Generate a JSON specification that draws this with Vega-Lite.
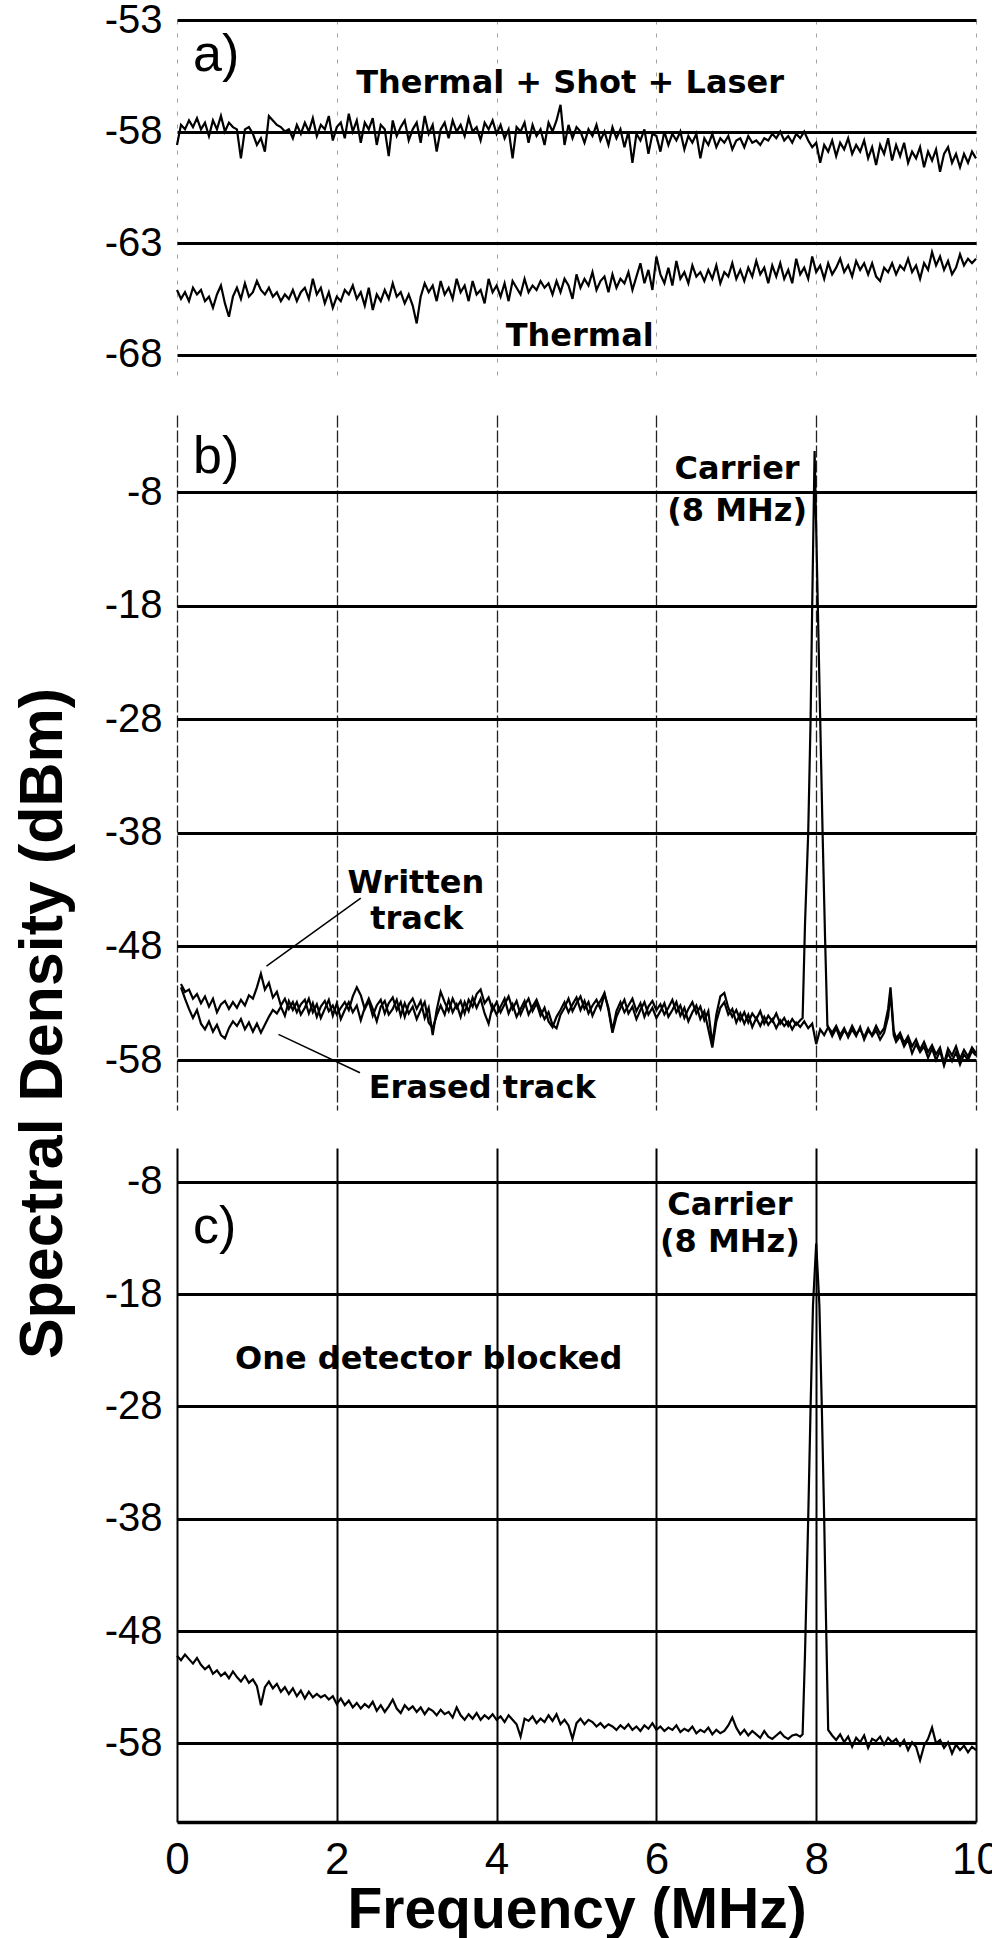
{
"$schema": "https://vega.github.io/schema/vega-lite/v6.json",
"background": "white",
"padding": {"left": 12, "top": 0, "right": 0, "bottom": 0},
"bounds": "flush",
"spacing": 38,
"config": {
  "view": {"stroke": null},
  "axis": {"labelColor": "black", "titleColor": "black", "labelFont": "Liberation Sans"},
  "line": {"color": "black", "strokeWidth": 2}
},
"datasets": {
"a1": [{"x":0,"y":-58.6},{"x":0.05,"y":-57.7},{"x":0.1,"y":-57.9},{"x":0.15,"y":-57.5},{"x":0.2,"y":-57.8},{"x":0.25,"y":-57.4},{"x":0.3,"y":-57.9},{"x":0.35,"y":-57.6},{"x":0.4,"y":-58.2},{"x":0.45,"y":-57.5},{"x":0.5,"y":-57.9},{"x":0.55,"y":-57.3},{"x":0.6,"y":-58.0},{"x":0.65,"y":-57.6},{"x":0.7,"y":-57.8},{"x":0.75,"y":-57.9},{"x":0.8,"y":-59.2},{"x":0.85,"y":-57.9},{"x":0.9,"y":-57.8},{"x":0.95,"y":-58.1},{"x":1.0,"y":-58.6},{"x":1.05,"y":-58.3},{"x":1.1,"y":-58.9},{"x":1.15,"y":-57.3},{"x":1.2,"y":-57.5},{"x":1.25,"y":-57.7},{"x":1.3,"y":-57.8},{"x":1.35,"y":-58.0},{"x":1.4,"y":-57.9},{"x":1.45,"y":-58.3},{"x":1.5,"y":-57.7},{"x":1.55,"y":-58.1},{"x":1.6,"y":-57.6},{"x":1.65,"y":-58.0},{"x":1.7,"y":-57.4},{"x":1.75,"y":-58.2},{"x":1.8,"y":-57.7},{"x":1.85,"y":-57.9},{"x":1.9,"y":-57.3},{"x":1.95,"y":-58.4},{"x":2.0,"y":-57.8},{"x":2.05,"y":-57.6},{"x":2.1,"y":-58.3},{"x":2.15,"y":-57.2},{"x":2.2,"y":-58.0},{"x":2.25,"y":-57.5},{"x":2.3,"y":-58.5},{"x":2.35,"y":-57.6},{"x":2.4,"y":-57.9},{"x":2.45,"y":-57.4},{"x":2.5,"y":-58.6},{"x":2.55,"y":-57.7},{"x":2.6,"y":-57.9},{"x":2.65,"y":-59.1},{"x":2.7,"y":-57.5},{"x":2.75,"y":-58.2},{"x":2.8,"y":-57.8},{"x":2.85,"y":-57.5},{"x":2.9,"y":-58.4},{"x":2.95,"y":-57.9},{"x":3.0,"y":-57.6},{"x":3.05,"y":-58.5},{"x":3.1,"y":-57.3},{"x":3.15,"y":-58.1},{"x":3.2,"y":-57.7},{"x":3.25,"y":-58.9},{"x":3.3,"y":-57.9},{"x":3.35,"y":-57.6},{"x":3.4,"y":-58.3},{"x":3.45,"y":-57.5},{"x":3.5,"y":-58.0},{"x":3.55,"y":-57.7},{"x":3.6,"y":-58.2},{"x":3.65,"y":-57.4},{"x":3.7,"y":-58.0},{"x":3.75,"y":-57.8},{"x":3.8,"y":-58.4},{"x":3.85,"y":-57.6},{"x":3.9,"y":-57.9},{"x":3.95,"y":-57.5},{"x":4.0,"y":-58.1},{"x":4.05,"y":-57.7},{"x":4.1,"y":-58.3},{"x":4.15,"y":-57.9},{"x":4.2,"y":-59.2},{"x":4.25,"y":-57.8},{"x":4.3,"y":-58.0},{"x":4.35,"y":-57.6},{"x":4.4,"y":-58.5},{"x":4.45,"y":-57.7},{"x":4.5,"y":-58.2},{"x":4.55,"y":-57.9},{"x":4.6,"y":-58.6},{"x":4.65,"y":-57.6},{"x":4.7,"y":-58.0},{"x":4.75,"y":-57.5},{"x":4.8,"y":-56.8},{"x":4.85,"y":-58.6},{"x":4.9,"y":-57.7},{"x":4.95,"y":-58.3},{"x":5.0,"y":-57.8},{"x":5.05,"y":-58.0},{"x":5.1,"y":-58.5},{"x":5.15,"y":-57.9},{"x":5.2,"y":-58.2},{"x":5.25,"y":-57.7},{"x":5.3,"y":-58.4},{"x":5.35,"y":-58.0},{"x":5.4,"y":-58.6},{"x":5.45,"y":-57.8},{"x":5.5,"y":-58.3},{"x":5.55,"y":-57.9},{"x":5.6,"y":-58.7},{"x":5.65,"y":-58.0},{"x":5.7,"y":-59.4},{"x":5.75,"y":-58.1},{"x":5.8,"y":-58.4},{"x":5.85,"y":-57.9},{"x":5.9,"y":-59.0},{"x":5.95,"y":-58.1},{"x":6.0,"y":-58.2},{"x":6.05,"y":-58.9},{"x":6.1,"y":-58.0},{"x":6.15,"y":-58.6},{"x":6.2,"y":-58.1},{"x":6.25,"y":-58.4},{"x":6.3,"y":-58.0},{"x":6.35,"y":-58.8},{"x":6.4,"y":-58.2},{"x":6.45,"y":-58.5},{"x":6.5,"y":-58.1},{"x":6.55,"y":-59.2},{"x":6.6,"y":-58.3},{"x":6.65,"y":-58.6},{"x":6.7,"y":-58.1},{"x":6.75,"y":-58.7},{"x":6.8,"y":-58.3},{"x":6.85,"y":-58.5},{"x":6.9,"y":-58.2},{"x":6.95,"y":-58.8},{"x":7.0,"y":-58.4},{"x":7.05,"y":-58.3},{"x":7.1,"y":-58.7},{"x":7.15,"y":-58.2},{"x":7.2,"y":-58.5},{"x":7.25,"y":-58.4},{"x":7.3,"y":-58.6},{"x":7.35,"y":-58.3},{"x":7.4,"y":-58.4},{"x":7.45,"y":-58.1},{"x":7.5,"y":-58.3},{"x":7.55,"y":-58.0},{"x":7.6,"y":-58.4},{"x":7.65,"y":-58.2},{"x":7.7,"y":-58.5},{"x":7.75,"y":-58.1},{"x":7.8,"y":-58.3},{"x":7.85,"y":-58.0},{"x":7.9,"y":-58.4},{"x":7.95,"y":-58.7},{"x":8.0,"y":-58.5},{"x":8.05,"y":-59.4},{"x":8.1,"y":-58.6},{"x":8.15,"y":-58.9},{"x":8.2,"y":-58.4},{"x":8.25,"y":-59.1},{"x":8.3,"y":-58.5},{"x":8.35,"y":-58.8},{"x":8.4,"y":-58.3},{"x":8.45,"y":-59.0},{"x":8.5,"y":-58.6},{"x":8.55,"y":-58.9},{"x":8.6,"y":-58.4},{"x":8.65,"y":-59.2},{"x":8.7,"y":-58.7},{"x":8.75,"y":-59.5},{"x":8.8,"y":-58.6},{"x":8.85,"y":-59.0},{"x":8.9,"y":-58.3},{"x":8.95,"y":-59.3},{"x":9.0,"y":-58.6},{"x":9.05,"y":-59.1},{"x":9.1,"y":-58.5},{"x":9.15,"y":-59.4},{"x":9.2,"y":-58.9},{"x":9.25,"y":-59.2},{"x":9.3,"y":-58.7},{"x":9.35,"y":-59.6},{"x":9.4,"y":-58.9},{"x":9.45,"y":-59.3},{"x":9.5,"y":-58.8},{"x":9.55,"y":-59.8},{"x":9.6,"y":-59.0},{"x":9.65,"y":-58.7},{"x":9.7,"y":-59.4},{"x":9.75,"y":-59.0},{"x":9.8,"y":-59.6},{"x":9.85,"y":-59.0},{"x":9.9,"y":-59.4},{"x":9.95,"y":-58.9},{"x":10.0,"y":-59.2}],
"a2": [{"x":0,"y":-65.1},{"x":0.05,"y":-65.5},{"x":0.1,"y":-65.2},{"x":0.15,"y":-65.6},{"x":0.2,"y":-65.0},{"x":0.25,"y":-65.3},{"x":0.3,"y":-65.1},{"x":0.35,"y":-65.6},{"x":0.4,"y":-65.4},{"x":0.45,"y":-65.9},{"x":0.5,"y":-65.3},{"x":0.55,"y":-64.9},{"x":0.6,"y":-65.7},{"x":0.65,"y":-66.3},{"x":0.7,"y":-65.4},{"x":0.75,"y":-65.0},{"x":0.8,"y":-65.5},{"x":0.85,"y":-64.8},{"x":0.9,"y":-65.4},{"x":0.95,"y":-65.2},{"x":1.0,"y":-64.7},{"x":1.05,"y":-65.1},{"x":1.1,"y":-65.3},{"x":1.15,"y":-65.0},{"x":1.2,"y":-65.4},{"x":1.25,"y":-65.2},{"x":1.3,"y":-65.6},{"x":1.35,"y":-65.3},{"x":1.4,"y":-65.5},{"x":1.45,"y":-65.1},{"x":1.5,"y":-65.6},{"x":1.55,"y":-65.2},{"x":1.6,"y":-65.0},{"x":1.65,"y":-65.5},{"x":1.7,"y":-64.6},{"x":1.75,"y":-65.3},{"x":1.8,"y":-65.0},{"x":1.85,"y":-65.7},{"x":1.9,"y":-65.2},{"x":1.95,"y":-65.9},{"x":2.0,"y":-65.4},{"x":2.05,"y":-65.6},{"x":2.1,"y":-65.1},{"x":2.15,"y":-65.3},{"x":2.2,"y":-64.9},{"x":2.25,"y":-65.5},{"x":2.3,"y":-65.2},{"x":2.35,"y":-65.8},{"x":2.4,"y":-65.0},{"x":2.45,"y":-66.0},{"x":2.5,"y":-65.3},{"x":2.55,"y":-65.6},{"x":2.6,"y":-65.1},{"x":2.65,"y":-65.5},{"x":2.7,"y":-64.8},{"x":2.75,"y":-65.4},{"x":2.8,"y":-65.2},{"x":2.85,"y":-65.7},{"x":2.9,"y":-65.3},{"x":2.95,"y":-65.8},{"x":3.0,"y":-66.6},{"x":3.05,"y":-65.4},{"x":3.1,"y":-64.8},{"x":3.15,"y":-65.2},{"x":3.2,"y":-64.9},{"x":3.25,"y":-65.6},{"x":3.3,"y":-64.7},{"x":3.35,"y":-65.3},{"x":3.4,"y":-65.0},{"x":3.45,"y":-65.5},{"x":3.5,"y":-64.6},{"x":3.55,"y":-65.2},{"x":3.6,"y":-64.9},{"x":3.65,"y":-65.6},{"x":3.7,"y":-64.7},{"x":3.75,"y":-65.3},{"x":3.8,"y":-65.1},{"x":3.85,"y":-65.7},{"x":3.9,"y":-64.6},{"x":3.95,"y":-65.2},{"x":4.0,"y":-64.9},{"x":4.05,"y":-65.4},{"x":4.1,"y":-64.8},{"x":4.15,"y":-65.6},{"x":4.2,"y":-64.7},{"x":4.25,"y":-65.0},{"x":4.3,"y":-65.3},{"x":4.35,"y":-64.6},{"x":4.4,"y":-65.2},{"x":4.45,"y":-64.9},{"x":4.5,"y":-65.1},{"x":4.55,"y":-64.7},{"x":4.6,"y":-65.0},{"x":4.65,"y":-64.8},{"x":4.7,"y":-65.3},{"x":4.75,"y":-64.7},{"x":4.8,"y":-65.2},{"x":4.85,"y":-64.6},{"x":4.9,"y":-64.9},{"x":4.95,"y":-65.5},{"x":5.0,"y":-64.4},{"x":5.05,"y":-65.0},{"x":5.1,"y":-64.6},{"x":5.15,"y":-64.9},{"x":5.2,"y":-64.3},{"x":5.25,"y":-65.1},{"x":5.3,"y":-64.7},{"x":5.35,"y":-64.5},{"x":5.4,"y":-65.2},{"x":5.45,"y":-64.4},{"x":5.5,"y":-65.0},{"x":5.55,"y":-64.6},{"x":5.6,"y":-64.8},{"x":5.65,"y":-64.3},{"x":5.7,"y":-65.1},{"x":5.75,"y":-64.5},{"x":5.8,"y":-63.9},{"x":5.85,"y":-64.8},{"x":5.9,"y":-64.2},{"x":5.95,"y":-65.1},{"x":6.0,"y":-63.6},{"x":6.05,"y":-64.4},{"x":6.1,"y":-64.8},{"x":6.15,"y":-64.1},{"x":6.2,"y":-64.9},{"x":6.25,"y":-63.8},{"x":6.3,"y":-64.6},{"x":6.35,"y":-64.3},{"x":6.4,"y":-64.8},{"x":6.45,"y":-64.0},{"x":6.5,"y":-64.5},{"x":6.55,"y":-64.3},{"x":6.6,"y":-64.7},{"x":6.65,"y":-64.2},{"x":6.7,"y":-64.6},{"x":6.75,"y":-64.0},{"x":6.8,"y":-64.8},{"x":6.85,"y":-64.3},{"x":6.9,"y":-64.5},{"x":6.95,"y":-63.9},{"x":7.0,"y":-64.6},{"x":7.05,"y":-64.2},{"x":7.1,"y":-64.7},{"x":7.15,"y":-64.1},{"x":7.2,"y":-64.5},{"x":7.25,"y":-63.8},{"x":7.3,"y":-64.4},{"x":7.35,"y":-64.1},{"x":7.4,"y":-64.8},{"x":7.45,"y":-64.0},{"x":7.5,"y":-64.5},{"x":7.55,"y":-63.9},{"x":7.6,"y":-64.6},{"x":7.65,"y":-64.2},{"x":7.7,"y":-64.8},{"x":7.75,"y":-63.7},{"x":7.8,"y":-64.4},{"x":7.85,"y":-64.1},{"x":7.9,"y":-64.6},{"x":7.95,"y":-63.6},{"x":8.0,"y":-64.3},{"x":8.05,"y":-64.0},{"x":8.1,"y":-64.6},{"x":8.15,"y":-63.9},{"x":8.2,"y":-64.4},{"x":8.25,"y":-64.1},{"x":8.3,"y":-63.7},{"x":8.35,"y":-64.3},{"x":8.4,"y":-64.0},{"x":8.45,"y":-64.5},{"x":8.5,"y":-63.8},{"x":8.55,"y":-64.2},{"x":8.6,"y":-63.9},{"x":8.65,"y":-64.4},{"x":8.7,"y":-63.9},{"x":8.75,"y":-64.5},{"x":8.8,"y":-64.7},{"x":8.85,"y":-64.1},{"x":8.9,"y":-64.3},{"x":8.95,"y":-63.9},{"x":9.0,"y":-64.4},{"x":9.05,"y":-64.0},{"x":9.1,"y":-64.2},{"x":9.15,"y":-63.7},{"x":9.2,"y":-64.3},{"x":9.25,"y":-64.0},{"x":9.3,"y":-64.6},{"x":9.35,"y":-63.9},{"x":9.4,"y":-64.2},{"x":9.45,"y":-63.4},{"x":9.5,"y":-64.0},{"x":9.55,"y":-63.6},{"x":9.6,"y":-64.2},{"x":9.65,"y":-63.8},{"x":9.7,"y":-64.4},{"x":9.75,"y":-64.1},{"x":9.8,"y":-63.5},{"x":9.85,"y":-64.0},{"x":9.9,"y":-63.7},{"x":9.95,"y":-63.9},{"x":10.0,"y":-63.7}],
"b1": [{"x":0.05,"y":-51.3},{"x":0.1,"y":-52.0},{"x":0.15,"y":-51.8},{"x":0.2,"y":-52.6},{"x":0.25,"y":-52.2},{"x":0.3,"y":-53.0},{"x":0.35,"y":-52.4},{"x":0.4,"y":-53.3},{"x":0.45,"y":-52.6},{"x":0.5,"y":-53.8},{"x":0.55,"y":-53.1},{"x":0.6,"y":-52.8},{"x":0.65,"y":-53.5},{"x":0.7,"y":-52.9},{"x":0.75,"y":-53.4},{"x":0.8,"y":-52.7},{"x":0.85,"y":-53.2},{"x":0.9,"y":-52.3},{"x":0.95,"y":-52.6},{"x":1.0,"y":-51.6},{"x":1.05,"y":-50.4},{"x":1.1,"y":-51.8},{"x":1.15,"y":-51.2},{"x":1.2,"y":-52.5},{"x":1.25,"y":-52.0},{"x":1.3,"y":-53.2},{"x":1.35,"y":-52.6},{"x":1.4,"y":-53.5},{"x":1.45,"y":-52.9},{"x":1.5,"y":-53.8},{"x":1.55,"y":-53.1},{"x":1.6,"y":-52.7},{"x":1.65,"y":-53.9},{"x":1.7,"y":-53.0},{"x":1.75,"y":-54.2},{"x":1.8,"y":-53.3},{"x":1.85,"y":-52.8},{"x":1.9,"y":-53.7},{"x":1.95,"y":-53.2},{"x":2.0,"y":-54.0},{"x":2.05,"y":-53.4},{"x":2.1,"y":-52.9},{"x":2.15,"y":-53.6},{"x":2.2,"y":-52.4},{"x":2.25,"y":-51.6},{"x":2.3,"y":-52.3},{"x":2.35,"y":-53.5},{"x":2.4,"y":-52.8},{"x":2.45,"y":-54.1},{"x":2.5,"y":-53.2},{"x":2.55,"y":-52.7},{"x":2.6,"y":-53.9},{"x":2.65,"y":-53.0},{"x":2.7,"y":-52.5},{"x":2.75,"y":-53.6},{"x":2.8,"y":-52.9},{"x":2.85,"y":-54.2},{"x":2.9,"y":-53.1},{"x":2.95,"y":-52.6},{"x":3.0,"y":-53.5},{"x":3.05,"y":-52.8},{"x":3.1,"y":-54.3},{"x":3.15,"y":-53.4},{"x":3.2,"y":-55.8},{"x":3.25,"y":-53.6},{"x":3.3,"y":-52.0},{"x":3.35,"y":-52.9},{"x":3.4,"y":-53.7},{"x":3.45,"y":-52.6},{"x":3.5,"y":-53.4},{"x":3.55,"y":-52.8},{"x":3.6,"y":-53.9},{"x":3.65,"y":-52.7},{"x":3.7,"y":-53.3},{"x":3.75,"y":-52.2},{"x":3.8,"y":-51.8},{"x":3.85,"y":-53.0},{"x":3.9,"y":-52.5},{"x":3.95,"y":-53.6},{"x":4.0,"y":-52.9},{"x":4.05,"y":-53.8},{"x":4.1,"y":-53.1},{"x":4.15,"y":-52.4},{"x":4.2,"y":-53.5},{"x":4.25,"y":-52.8},{"x":4.3,"y":-54.0},{"x":4.35,"y":-53.2},{"x":4.4,"y":-52.6},{"x":4.45,"y":-53.7},{"x":4.5,"y":-53.0},{"x":4.55,"y":-54.1},{"x":4.6,"y":-53.4},{"x":4.65,"y":-54.6},{"x":4.7,"y":-55.1},{"x":4.75,"y":-54.2},{"x":4.8,"y":-53.6},{"x":4.85,"y":-52.9},{"x":4.9,"y":-53.8},{"x":4.95,"y":-53.1},{"x":5.0,"y":-52.5},{"x":5.05,"y":-53.6},{"x":5.1,"y":-52.8},{"x":5.15,"y":-53.9},{"x":5.2,"y":-53.2},{"x":5.25,"y":-52.7},{"x":5.3,"y":-53.5},{"x":5.35,"y":-52.2},{"x":5.4,"y":-53.4},{"x":5.45,"y":-55.4},{"x":5.5,"y":-53.7},{"x":5.55,"y":-52.9},{"x":5.6,"y":-53.8},{"x":5.65,"y":-53.2},{"x":5.7,"y":-52.6},{"x":5.75,"y":-53.7},{"x":5.8,"y":-53.0},{"x":5.85,"y":-54.2},{"x":5.9,"y":-53.3},{"x":5.95,"y":-52.8},{"x":6.0,"y":-53.6},{"x":6.05,"y":-53.1},{"x":6.1,"y":-54.0},{"x":6.15,"y":-53.4},{"x":6.2,"y":-52.7},{"x":6.25,"y":-53.8},{"x":6.3,"y":-53.2},{"x":6.35,"y":-54.3},{"x":6.4,"y":-53.5},{"x":6.45,"y":-52.9},{"x":6.5,"y":-53.9},{"x":6.55,"y":-53.3},{"x":6.6,"y":-54.5},{"x":6.65,"y":-53.7},{"x":6.7,"y":-56.6},{"x":6.75,"y":-54.0},{"x":6.8,"y":-52.4},{"x":6.85,"y":-52.1},{"x":6.9,"y":-53.4},{"x":6.95,"y":-54.2},{"x":7.0,"y":-53.6},{"x":7.05,"y":-54.5},{"x":7.1,"y":-53.8},{"x":7.15,"y":-54.7},{"x":7.2,"y":-53.9},{"x":7.25,"y":-54.4},{"x":7.3,"y":-53.7},{"x":7.35,"y":-54.8},{"x":7.4,"y":-54.1},{"x":7.45,"y":-54.6},{"x":7.5,"y":-53.9},{"x":7.55,"y":-54.8},{"x":7.6,"y":-54.3},{"x":7.65,"y":-55.0},{"x":7.7,"y":-54.4},{"x":7.75,"y":-54.9},{"x":7.8,"y":-54.5},{"x":7.83,"y":-54.3},{"x":7.86,"y":-46},{"x":7.9,"y":-38},{"x":7.93,"y":-28},{"x":7.95,"y":-18},{"x":7.98,"y":-4.4},{"x":8.02,"y":-18},{"x":8.05,"y":-28},{"x":8.08,"y":-38},{"x":8.11,"y":-47},{"x":8.14,"y":-55.0},{"x":8.2,"y":-55.6},{"x":8.25,"y":-55.0},{"x":8.3,"y":-55.8},{"x":8.35,"y":-55.2},{"x":8.4,"y":-56.0},{"x":8.45,"y":-55.3},{"x":8.5,"y":-55.9},{"x":8.55,"y":-55.1},{"x":8.6,"y":-56.2},{"x":8.65,"y":-55.4},{"x":8.7,"y":-55.8},{"x":8.75,"y":-55.0},{"x":8.8,"y":-55.7},{"x":8.85,"y":-55.2},{"x":8.9,"y":-53.5},{"x":8.93,"y":-51.6},{"x":8.97,"y":-55.4},{"x":9.0,"y":-56.1},{"x":9.05,"y":-55.6},{"x":9.1,"y":-56.5},{"x":9.15,"y":-55.9},{"x":9.2,"y":-56.8},{"x":9.25,"y":-56.2},{"x":9.3,"y":-57.1},{"x":9.35,"y":-56.4},{"x":9.4,"y":-57.3},{"x":9.45,"y":-56.7},{"x":9.5,"y":-57.5},{"x":9.55,"y":-56.9},{"x":9.6,"y":-58.3},{"x":9.65,"y":-57.0},{"x":9.7,"y":-57.6},{"x":9.75,"y":-56.8},{"x":9.8,"y":-57.9},{"x":9.85,"y":-57.1},{"x":9.9,"y":-57.7},{"x":9.95,"y":-56.9},{"x":10.0,"y":-57.4}],
"b2": [{"x":0.05,"y":-51.6},{"x":0.1,"y":-52.6},{"x":0.15,"y":-53.5},{"x":0.2,"y":-54.3},{"x":0.25,"y":-53.6},{"x":0.3,"y":-54.8},{"x":0.35,"y":-55.3},{"x":0.4,"y":-54.6},{"x":0.45,"y":-55.5},{"x":0.5,"y":-54.9},{"x":0.55,"y":-55.8},{"x":0.6,"y":-56.1},{"x":0.65,"y":-55.2},{"x":0.7,"y":-54.6},{"x":0.75,"y":-55.0},{"x":0.8,"y":-54.4},{"x":0.85,"y":-55.3},{"x":0.9,"y":-54.7},{"x":0.95,"y":-55.5},{"x":1.0,"y":-54.8},{"x":1.05,"y":-55.6},{"x":1.1,"y":-54.9},{"x":1.15,"y":-54.2},{"x":1.2,"y":-53.6},{"x":1.25,"y":-53.9},{"x":1.3,"y":-53.3},{"x":1.35,"y":-54.1},{"x":1.4,"y":-52.8},{"x":1.45,"y":-53.6},{"x":1.5,"y":-52.9},{"x":1.55,"y":-54.0},{"x":1.6,"y":-53.4},{"x":1.65,"y":-52.6},{"x":1.7,"y":-53.8},{"x":1.75,"y":-53.1},{"x":1.8,"y":-54.3},{"x":1.85,"y":-53.5},{"x":1.9,"y":-52.7},{"x":1.95,"y":-54.1},{"x":2.0,"y":-53.0},{"x":2.05,"y":-54.4},{"x":2.1,"y":-53.6},{"x":2.15,"y":-52.9},{"x":2.2,"y":-53.8},{"x":2.25,"y":-53.2},{"x":2.3,"y":-54.5},{"x":2.35,"y":-53.4},{"x":2.4,"y":-52.6},{"x":2.45,"y":-53.5},{"x":2.5,"y":-54.6},{"x":2.55,"y":-53.3},{"x":2.6,"y":-52.8},{"x":2.65,"y":-54.0},{"x":2.7,"y":-53.5},{"x":2.75,"y":-52.7},{"x":2.8,"y":-54.1},{"x":2.85,"y":-53.0},{"x":2.9,"y":-53.9},{"x":2.95,"y":-53.3},{"x":3.0,"y":-54.4},{"x":3.05,"y":-53.6},{"x":3.1,"y":-52.9},{"x":3.15,"y":-54.7},{"x":3.2,"y":-55.2},{"x":3.25,"y":-54.1},{"x":3.3,"y":-53.2},{"x":3.35,"y":-54.0},{"x":3.4,"y":-52.7},{"x":3.45,"y":-53.8},{"x":3.5,"y":-53.1},{"x":3.55,"y":-54.2},{"x":3.6,"y":-52.9},{"x":3.65,"y":-53.7},{"x":3.7,"y":-52.5},{"x":3.75,"y":-53.4},{"x":3.8,"y":-52.6},{"x":3.85,"y":-53.9},{"x":3.9,"y":-54.8},{"x":3.95,"y":-53.2},{"x":4.0,"y":-54.0},{"x":4.05,"y":-53.3},{"x":4.1,"y":-52.6},{"x":4.15,"y":-53.9},{"x":4.2,"y":-53.1},{"x":4.25,"y":-54.2},{"x":4.3,"y":-53.5},{"x":4.35,"y":-52.8},{"x":4.4,"y":-54.0},{"x":4.45,"y":-53.3},{"x":4.5,"y":-52.7},{"x":4.55,"y":-53.6},{"x":4.6,"y":-54.4},{"x":4.65,"y":-53.8},{"x":4.7,"y":-54.9},{"x":4.75,"y":-55.2},{"x":4.8,"y":-54.0},{"x":4.85,"y":-53.4},{"x":4.9,"y":-52.6},{"x":4.95,"y":-53.7},{"x":5.0,"y":-53.0},{"x":5.05,"y":-52.4},{"x":5.1,"y":-53.5},{"x":5.15,"y":-52.9},{"x":5.2,"y":-54.1},{"x":5.25,"y":-53.3},{"x":5.3,"y":-52.8},{"x":5.35,"y":-52.1},{"x":5.4,"y":-53.6},{"x":5.45,"y":-55.6},{"x":5.5,"y":-54.2},{"x":5.55,"y":-53.4},{"x":5.6,"y":-52.7},{"x":5.65,"y":-53.9},{"x":5.7,"y":-53.3},{"x":5.75,"y":-54.4},{"x":5.8,"y":-53.6},{"x":5.85,"y":-52.9},{"x":5.9,"y":-54.0},{"x":5.95,"y":-53.4},{"x":6.0,"y":-54.3},{"x":6.05,"y":-53.7},{"x":6.1,"y":-53.0},{"x":6.15,"y":-54.2},{"x":6.2,"y":-53.6},{"x":6.25,"y":-52.9},{"x":6.3,"y":-54.1},{"x":6.35,"y":-53.4},{"x":6.4,"y":-54.6},{"x":6.45,"y":-53.8},{"x":6.5,"y":-53.2},{"x":6.55,"y":-54.4},{"x":6.6,"y":-53.7},{"x":6.65,"y":-55.3},{"x":6.7,"y":-56.9},{"x":6.75,"y":-54.6},{"x":6.8,"y":-53.4},{"x":6.85,"y":-52.9},{"x":6.9,"y":-54.0},{"x":6.95,"y":-53.5},{"x":7.0,"y":-54.7},{"x":7.05,"y":-53.9},{"x":7.1,"y":-54.8},{"x":7.15,"y":-54.0},{"x":7.2,"y":-55.1},{"x":7.25,"y":-54.3},{"x":7.3,"y":-55.0},{"x":7.35,"y":-54.2},{"x":7.4,"y":-54.9},{"x":7.45,"y":-54.4},{"x":7.5,"y":-55.2},{"x":7.55,"y":-54.5},{"x":7.6,"y":-55.0},{"x":7.65,"y":-54.6},{"x":7.7,"y":-55.3},{"x":7.75,"y":-54.7},{"x":7.8,"y":-55.1},{"x":7.85,"y":-54.6},{"x":7.9,"y":-55.2},{"x":7.95,"y":-54.8},{"x":8.0,"y":-56.6},{"x":8.05,"y":-55.3},{"x":8.1,"y":-55.8},{"x":8.15,"y":-55.1},{"x":8.2,"y":-55.9},{"x":8.25,"y":-55.2},{"x":8.3,"y":-56.1},{"x":8.35,"y":-55.4},{"x":8.4,"y":-55.8},{"x":8.45,"y":-55.0},{"x":8.5,"y":-55.7},{"x":8.55,"y":-55.3},{"x":8.6,"y":-56.0},{"x":8.65,"y":-55.2},{"x":8.7,"y":-55.9},{"x":8.75,"y":-55.4},{"x":8.8,"y":-56.2},{"x":8.85,"y":-55.6},{"x":8.9,"y":-54.2},{"x":8.93,"y":-52.0},{"x":8.97,"y":-55.8},{"x":9.0,"y":-56.4},{"x":9.05,"y":-55.9},{"x":9.1,"y":-56.8},{"x":9.15,"y":-56.2},{"x":9.2,"y":-57.4},{"x":9.25,"y":-56.6},{"x":9.3,"y":-57.3},{"x":9.35,"y":-56.8},{"x":9.4,"y":-57.8},{"x":9.45,"y":-57.0},{"x":9.5,"y":-58.0},{"x":9.55,"y":-57.2},{"x":9.6,"y":-58.5},{"x":9.65,"y":-57.4},{"x":9.7,"y":-58.1},{"x":9.75,"y":-57.3},{"x":9.8,"y":-58.4},{"x":9.85,"y":-57.5},{"x":9.9,"y":-58.0},{"x":9.95,"y":-57.2},{"x":10.0,"y":-57.6}],
"c1": [{"x":0,"y":-50.2},{"x":0.05,"y":-50.6},{"x":0.1,"y":-50.1},{"x":0.15,"y":-50.5},{"x":0.2,"y":-50.9},{"x":0.25,"y":-50.4},{"x":0.3,"y":-51.0},{"x":0.35,"y":-51.4},{"x":0.4,"y":-51.1},{"x":0.45,"y":-51.8},{"x":0.5,"y":-51.5},{"x":0.55,"y":-52.0},{"x":0.6,"y":-51.7},{"x":0.65,"y":-52.2},{"x":0.7,"y":-51.6},{"x":0.75,"y":-52.1},{"x":0.8,"y":-52.5},{"x":0.85,"y":-52.0},{"x":0.9,"y":-52.6},{"x":0.95,"y":-52.3},{"x":1.0,"y":-52.9},{"x":1.05,"y":-54.6},{"x":1.1,"y":-53.0},{"x":1.15,"y":-52.5},{"x":1.2,"y":-53.1},{"x":1.25,"y":-52.7},{"x":1.3,"y":-53.4},{"x":1.35,"y":-53.0},{"x":1.4,"y":-53.6},{"x":1.45,"y":-53.1},{"x":1.5,"y":-53.8},{"x":1.55,"y":-53.3},{"x":1.6,"y":-54.0},{"x":1.65,"y":-53.4},{"x":1.7,"y":-53.9},{"x":1.75,"y":-53.6},{"x":1.8,"y":-53.9},{"x":1.85,"y":-53.7},{"x":1.9,"y":-54.1},{"x":1.95,"y":-53.8},{"x":2.0,"y":-54.5},{"x":2.05,"y":-54.0},{"x":2.1,"y":-54.6},{"x":2.15,"y":-54.2},{"x":2.2,"y":-54.8},{"x":2.25,"y":-54.4},{"x":2.3,"y":-54.9},{"x":2.35,"y":-54.5},{"x":2.4,"y":-54.8},{"x":2.45,"y":-54.3},{"x":2.5,"y":-55.1},{"x":2.55,"y":-54.6},{"x":2.6,"y":-55.2},{"x":2.65,"y":-54.7},{"x":2.7,"y":-54.1},{"x":2.75,"y":-54.9},{"x":2.8,"y":-55.3},{"x":2.85,"y":-54.6},{"x":2.9,"y":-55.0},{"x":2.95,"y":-54.7},{"x":3.0,"y":-55.2},{"x":3.05,"y":-54.8},{"x":3.1,"y":-55.4},{"x":3.15,"y":-54.9},{"x":3.2,"y":-55.1},{"x":3.25,"y":-55.5},{"x":3.3,"y":-55.0},{"x":3.35,"y":-55.4},{"x":3.4,"y":-55.2},{"x":3.45,"y":-55.7},{"x":3.5,"y":-54.8},{"x":3.55,"y":-55.5},{"x":3.6,"y":-55.9},{"x":3.65,"y":-55.4},{"x":3.7,"y":-55.8},{"x":3.75,"y":-55.3},{"x":3.8,"y":-55.9},{"x":3.85,"y":-55.5},{"x":3.9,"y":-55.8},{"x":3.95,"y":-55.4},{"x":4.0,"y":-55.9},{"x":4.05,"y":-55.6},{"x":4.1,"y":-56.1},{"x":4.15,"y":-55.5},{"x":4.2,"y":-55.9},{"x":4.25,"y":-56.3},{"x":4.3,"y":-57.4},{"x":4.35,"y":-55.8},{"x":4.4,"y":-56.0},{"x":4.45,"y":-55.6},{"x":4.5,"y":-56.2},{"x":4.55,"y":-55.8},{"x":4.6,"y":-56.1},{"x":4.65,"y":-55.5},{"x":4.7,"y":-56.0},{"x":4.75,"y":-55.4},{"x":4.8,"y":-56.3},{"x":4.85,"y":-55.9},{"x":4.9,"y":-56.4},{"x":4.95,"y":-57.6},{"x":5.0,"y":-56.2},{"x":5.05,"y":-55.8},{"x":5.1,"y":-56.3},{"x":5.15,"y":-55.9},{"x":5.2,"y":-56.1},{"x":5.25,"y":-56.5},{"x":5.3,"y":-56.2},{"x":5.35,"y":-56.6},{"x":5.4,"y":-56.3},{"x":5.45,"y":-56.5},{"x":5.5,"y":-56.8},{"x":5.55,"y":-56.4},{"x":5.6,"y":-56.7},{"x":5.65,"y":-56.3},{"x":5.7,"y":-56.8},{"x":5.75,"y":-56.5},{"x":5.8,"y":-56.9},{"x":5.85,"y":-56.4},{"x":5.9,"y":-56.7},{"x":5.95,"y":-56.2},{"x":6.0,"y":-56.8},{"x":6.05,"y":-56.5},{"x":6.1,"y":-56.9},{"x":6.15,"y":-56.6},{"x":6.2,"y":-56.8},{"x":6.25,"y":-56.4},{"x":6.3,"y":-57.0},{"x":6.35,"y":-56.7},{"x":6.4,"y":-56.9},{"x":6.45,"y":-56.5},{"x":6.5,"y":-57.1},{"x":6.55,"y":-56.8},{"x":6.6,"y":-57.0},{"x":6.65,"y":-56.6},{"x":6.7,"y":-57.2},{"x":6.75,"y":-56.8},{"x":6.8,"y":-57.1},{"x":6.85,"y":-56.9},{"x":6.9,"y":-56.4},{"x":6.95,"y":-55.7},{"x":7.0,"y":-56.6},{"x":7.05,"y":-57.2},{"x":7.1,"y":-56.8},{"x":7.15,"y":-57.3},{"x":7.2,"y":-56.9},{"x":7.25,"y":-57.2},{"x":7.3,"y":-57.5},{"x":7.35,"y":-56.9},{"x":7.4,"y":-57.4},{"x":7.45,"y":-57.6},{"x":7.5,"y":-57.3},{"x":7.55,"y":-57.0},{"x":7.6,"y":-57.4},{"x":7.65,"y":-57.6},{"x":7.7,"y":-57.3},{"x":7.75,"y":-57.2},{"x":7.8,"y":-57.4},{"x":7.83,"y":-57.2},{"x":7.86,"y":-50},{"x":7.88,"y":-44},{"x":7.9,"y":-38},{"x":7.93,"y":-28},{"x":7.96,"y":-19},{"x":8.0,"y":-13.5},{"x":8.04,"y":-19},{"x":8.07,"y":-28},{"x":8.1,"y":-38},{"x":8.12,"y":-46},{"x":8.15,"y":-56.8},{"x":8.2,"y":-57.3},{"x":8.25,"y":-57.7},{"x":8.3,"y":-57.2},{"x":8.35,"y":-57.9},{"x":8.4,"y":-57.4},{"x":8.45,"y":-58.3},{"x":8.5,"y":-57.5},{"x":8.55,"y":-57.9},{"x":8.6,"y":-57.3},{"x":8.65,"y":-58.4},{"x":8.7,"y":-57.6},{"x":8.75,"y":-57.8},{"x":8.8,"y":-57.4},{"x":8.85,"y":-58.1},{"x":8.9,"y":-57.5},{"x":8.95,"y":-57.9},{"x":9.0,"y":-57.6},{"x":9.05,"y":-58.2},{"x":9.1,"y":-57.7},{"x":9.15,"y":-58.6},{"x":9.2,"y":-57.9},{"x":9.25,"y":-58.3},{"x":9.3,"y":-59.5},{"x":9.35,"y":-58.2},{"x":9.4,"y":-57.6},{"x":9.45,"y":-56.6},{"x":9.5,"y":-58.0},{"x":9.55,"y":-57.7},{"x":9.6,"y":-58.4},{"x":9.65,"y":-57.9},{"x":9.7,"y":-58.9},{"x":9.75,"y":-58.1},{"x":9.8,"y":-58.6},{"x":9.85,"y":-58.2},{"x":9.9,"y":-58.8},{"x":9.95,"y":-58.3},{"x":10.0,"y":-58.6}]
},
"vconcat": [
{
  "width": 799, "height": 357,
  "encoding": {
    "x": {"field": "x", "type": "quantitative", "scale": {"domain": [0, 10], "nice": false, "zero": false},
      "axis": {"values": [0,2,4,6,8,10], "grid": true, "gridColor": "#a0a0a0", "gridWidth": 1, "gridDash": [4,9], "labels": false, "domain": false, "ticks": false, "title": null}},
    "y": {"field": "y", "type": "quantitative", "scale": {"domain": [-69, -53], "nice": false, "zero": false},
      "axis": {"values": [-68,-63,-58,-53], "grid": true, "gridColor": "black", "gridWidth": 3, "domain": false, "ticks": false, "labelFontSize": 40, "labelPadding": 15, "labelExpr": "'-' + format(abs(datum.value), 'd')", "title": null}}
  },
  "layer": [
    {"data": {"name": "a1"}, "mark": {"type": "line", "color": "black", "strokeWidth": 2.2}},
    {"data": {"name": "a2"}, "mark": {"type": "line", "color": "black", "strokeWidth": 2.2}},
    {"data": {"values": [{"x": 0.2, "y": -55.29, "t": "a)"}]},
     "mark": {"type": "text", "font": "Liberation Sans", "fontSize": 52, "align": "left", "baseline": "alphabetic", "color": "black"},
     "encoding": {"text": {"field": "t"}}},
    {"data": {"values": [{"x": 4.92, "y": -56.27, "t": "Thermal + Shot + Laser"}, {"x": 5.04, "y": -67.6, "t": "Thermal"}]},
     "mark": {"type": "text", "font": "DejaVu Sans", "fontWeight": "bold", "fontSize": 32, "align": "center", "baseline": "alphabetic", "color": "black"},
     "encoding": {"text": {"field": "t"}}}
  ]
},
{
  "width": 799, "height": 695,
  "encoding": {
    "x": {"field": "x", "type": "quantitative", "scale": {"domain": [0, 10], "nice": false, "zero": false},
      "axis": {"values": [0,2,4,6,8,10], "grid": true, "gridColor": "#222222", "gridWidth": 1.3, "gridDash": [12,3], "labels": false, "domain": false, "ticks": false, "title": null}},
    "y": {"field": "y", "type": "quantitative", "scale": {"domain": [-62.4, -1.22], "nice": false, "zero": false},
      "axis": {"values": [-58,-48,-38,-28,-18,-8], "grid": true, "gridColor": "black", "gridWidth": 3, "domain": false, "ticks": false, "labelFontSize": 40, "labelPadding": 15, "labelExpr": "'-' + format(abs(datum.value), 'd')",
        "title": "Spectral Density (dBm)", "titleFont": "Liberation Sans", "titleFontWeight": "bold", "titleFontSize": 61, "titleX": -134, "titleY": 608, "titleBaseline": "middle", "titleAngle": -90, "titleAlign": "center"}}
  },
  "layer": [
    {"data": {"name": "b2"}, "mark": {"type": "line", "color": "black", "strokeWidth": 2.2}},
    {"data": {"name": "b1"}, "mark": {"type": "line", "color": "black", "strokeWidth": 2.2}},
    {"data": {"values": [{"x": 1.12, "y": -49.73, "x2": 2.3, "y2": -43.75}, {"x": 1.27, "y": -55.74, "x2": 2.29, "y2": -59.12}]},
     "mark": {"type": "rule", "color": "black", "strokeWidth": 1.5},
     "encoding": {"x2": {"field": "x2"}, "y2": {"field": "y2"}}},
    {"data": {"values": [{"x": 0.2, "y": -6.33, "t": "b)"}]},
     "mark": {"type": "text", "font": "Liberation Sans", "fontSize": 52, "align": "left", "baseline": "alphabetic", "color": "black"},
     "encoding": {"text": {"field": "t"}}},
    {"data": {"values": [{"x": 7.01, "y": -6.86, "t": "Carrier"}, {"x": 7.01, "y": -10.55, "t": "(8 MHz)"}, {"x": 2.99, "y": -43.3, "t": "Written"}, {"x": 3.0, "y": -46.47, "t": "track"}, {"x": 3.82, "y": -61.35, "t": "Erased track"}]},
     "mark": {"type": "text", "font": "DejaVu Sans", "fontWeight": "bold", "fontSize": 32, "align": "center", "baseline": "alphabetic", "color": "black"},
     "encoding": {"text": {"field": "t"}}}
  ]
},
{
  "width": 799, "height": 674,
  "encoding": {
    "x": {"field": "x", "type": "quantitative", "scale": {"domain": [0, 10], "nice": false, "zero": false},
      "axis": {"values": [0,2,4,6,8,10], "grid": true, "gridColor": "black", "gridWidth": 2, "domain": true, "domainColor": "black", "domainWidth": 3.5, "ticks": false,
        "labelFont": "Liberation Sans Narrow, Liberation Sans", "labelFontSize": 44, "labelPadding": 16, "labelFlush": false,
        "title": "Frequency (MHz)", "titleFont": "Liberation Sans", "titleFontWeight": "bold", "titleFontSize": 57, "titlePadding": 0}},
    "y": {"field": "y", "type": "quantitative", "scale": {"domain": [-65, -5], "nice": false, "zero": false},
      "axis": {"values": [-58,-48,-38,-28,-18,-8], "grid": true, "gridColor": "black", "gridWidth": 3, "domain": false, "ticks": false, "labelFontSize": 40, "labelPadding": 15, "labelExpr": "'-' + format(abs(datum.value), 'd')", "title": null}}
  },
  "layer": [
    {"data": {"name": "c1"}, "mark": {"type": "line", "color": "black", "strokeWidth": 2.2}},
    {"data": {"values": [{"x": 0.2, "y": -13.44, "t": "c)"}]},
     "mark": {"type": "text", "font": "Liberation Sans", "fontSize": 52, "align": "left", "baseline": "alphabetic", "color": "black"},
     "encoding": {"text": {"field": "t"}}},
    {"data": {"values": [{"x": 6.92, "y": -11.0, "t": "Carrier"}, {"x": 6.92, "y": -14.3, "t": "(8 MHz)"}, {"x": 3.15, "y": -24.67, "t": "One detector blocked"}]},
     "mark": {"type": "text", "font": "DejaVu Sans", "fontWeight": "bold", "fontSize": 32, "align": "center", "baseline": "alphabetic", "color": "black"},
     "encoding": {"text": {"field": "t"}}}
  ]
}
]
}
